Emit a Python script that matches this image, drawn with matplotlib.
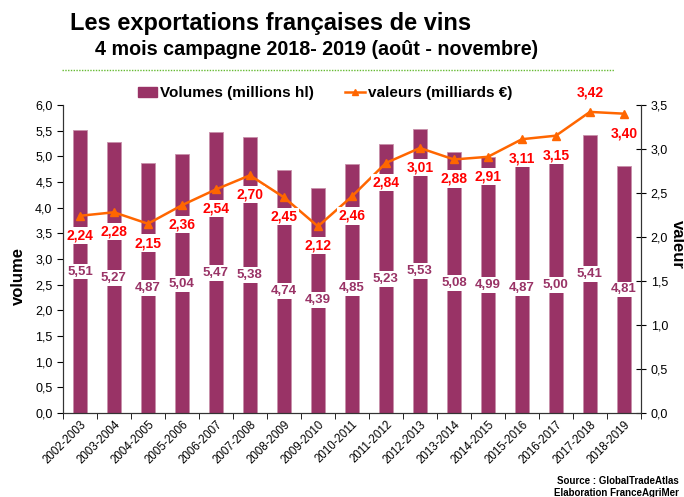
import matplotlib.pyplot as plt
from matplotlib.lines import Line2D
from matplotlib.patches import Patch

plt.rcParams['font.family'] = ['Liberation Sans', 'DejaVu Sans']

campagnes = ["2002-2003", "2003-2004", "2004-2005", "2005-2006", "2006-2007",
             "2007-2008", "2008-2009", "2009-2010", "2010-2011", "2011-2012",
             "2012-2013", "2013-2014", "2014-2015", "2015-2016", "2016-2017",
             "2017-2018", "2018-2019"]
volumes = [5.51, 5.27, 4.87, 5.04, 5.47, 5.38, 4.74, 4.39, 4.85, 5.23,
           5.53, 5.08, 4.99, 4.87, 5.00, 5.41, 4.81]
valeurs = [2.24, 2.28, 2.15, 2.36, 2.54, 2.70, 2.45, 2.12, 2.46, 2.84,
           3.01, 2.88, 2.91, 3.11, 3.15, 3.42, 3.40]

bar_col = "#993366"
line_col = "#FF6600"

def fr(v):
    return f"{v:.2f}".replace(".", ",")

fig = plt.figure(figsize=(6.84, 4.97), dpi=100)
ax = fig.add_axes([0.092, 0.169, 0.845, 0.62])
ax2 = ax.twinx()

x = list(range(len(campagnes)))
ax.bar(x, volumes, width=0.41, color=bar_col, edgecolor="#c890aa", linewidth=0.6, zorder=1)
for xi, v in zip(x, volumes):
    ax.text(xi, v / 2, fr(v), ha="center", va="center", fontsize=9.5, fontweight="bold",
            color=bar_col, zorder=3,
            bbox=dict(boxstyle="square,pad=0.15", fc="white", ec="none"))

ax2.plot(x, valeurs, color=line_col, marker="^", markersize=6, linewidth=1.8, zorder=4)
for i, (xi, v) in enumerate(zip(x, valeurs)):
    # le point 2017-2018 a son étiquette au-dessus
    dy = 14 if i == len(valeurs) - 2 else -14
    ax2.annotate(fr(v), (xi, v), xytext=(0, dy), textcoords="offset points",
                 ha="center", va="center", fontsize=10, fontweight="bold", color="#FF0000",
                 bbox=dict(boxstyle="square,pad=0.12", fc="white", ec="none"), zorder=5)

ax.set_xlim(-0.5, len(campagnes) - 0.5)
ax.set_ylim(0, 6.0)
ax2.set_ylim(0, 3.5)
ax.set_yticks([i * 0.5 for i in range(13)])
ax.set_yticklabels([f"{i * 0.5:.1f}".replace(".", ",") for i in range(13)], fontsize=9)
ax2.set_yticks([i * 0.5 for i in range(8)])
ax2.set_yticklabels([f"{i * 0.5:.1f}".replace(".", ",") for i in range(8)], fontsize=9)
ax.set_xticks(x)
ax.set_xticklabels(campagnes, rotation=45, ha="right", rotation_mode="anchor", fontsize=8.3)
ax.tick_params(axis="x", length=0, pad=4)
ax.tick_params(axis="y", direction="out", length=4)
ax2.tick_params(axis="y", direction="inout", length=7)
ax.set_xticks([i + 0.5 for i in range(-1, len(campagnes))], minor=True)
ax.tick_params(axis="x", which="minor", direction="out", length=4)

for a in (ax, ax2):
    a.spines["top"].set_visible(False)
    for s in ("left", "right", "bottom"):
        a.spines[s].set_color("#333333")

# titres des axes
fig.text(0.027, 0.445, "volume", fontsize=12, fontweight="bold", rotation=90, ha="center", va="center")
fig.text(0.99, 0.508, "valeur", fontsize=12, fontweight="bold", rotation=-90, ha="center", va="center")

fig.text(0.103, 0.953, "Les exportations françaises de vins", fontsize=17, fontweight="bold", va="center")
fig.text(0.139, 0.9, "4 mois campagne 2018- 2019 (août - novembre)", fontsize=14.2,
         fontweight="bold", va="center")
fig.add_artist(Line2D([0.09, 0.897], [0.859, 0.859], color="#66bb33", linestyle=(0, (1, 1)),
                      linewidth=1.0))

handles = [Patch(color=bar_col), Line2D([0], [0], color=line_col, marker="^", markersize=5, linewidth=1.8)]
fig.legend(handles, ["Volumes (millions hl)", "valeurs (milliards €)"], loc="center",
           bbox_to_anchor=(0.475, 0.812), ncol=2, frameon=False,
           prop={"weight": "bold", "size": 11}, handlelength=1.3, handletextpad=0.2,
           columnspacing=2.0)

fig.text(0.992, 0.033, "Source : GlobalTradeAtlas", fontsize=7, fontweight="bold", ha="right", va="center")
fig.text(0.992, 0.008, "Elaboration FranceAgriMer", fontsize=7, fontweight="bold", ha="right", va="center")

fig.savefig("out.png", dpi=100, facecolor="white")
